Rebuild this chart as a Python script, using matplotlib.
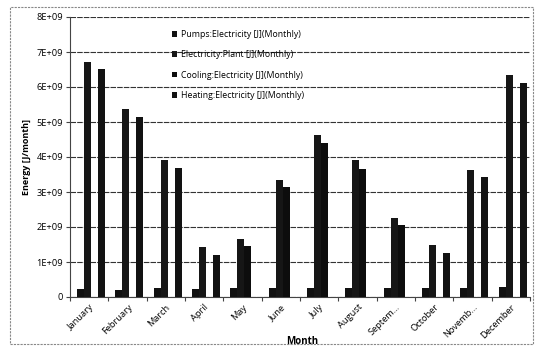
import matplotlib

matplotlib.use('Agg')

import matplotlib.pyplot as plt
import numpy as np
from matplotlib.patches import Rectangle
from matplotlib.ticker import FuncFormatter, FixedLocator

months = ['January', 'February', 'March', 'April', 'May', 'June', 'July',
          'August', 'Septem...', 'October', 'Novemb...', 'December']

# energy per month, in units of 1E+09 J
pumps = [0.24, 0.21, 0.27, 0.23, 0.25, 0.26, 0.27, 0.27, 0.26, 0.25, 0.26, 0.30]
plant = [6.72, 5.36, 3.91, 1.42, 1.67, 3.35, 4.62, 3.91, 2.27, 1.48, 3.64, 6.33]
cooling = [0, 0, 0, 0, 1.45, 3.14, 4.40, 3.67, 2.05, 0, 0, 0]
heating = [6.50, 5.15, 3.69, 1.20, 0, 0, 0, 0, 0, 1.26, 3.43, 6.10]

series = [
    ('Pumps:Electricity [J](Monthly)', pumps, '#111111'),
    ('Electricity:Plant [J](Monthly)', plant, '#161616'),
    ('Cooling:Electricity [J](Monthly)', cooling, '#0d0d0d'),
    ('Heating:Electricity [J](Monthly)', heating, '#121212'),
]

W, H = 535, 347
fig = plt.figure(figsize=(W / 100, H / 100), dpi=100)
ax = fig.add_axes([70 / W, 1 - 297 / H, 460 / W, 280 / H])

x = np.arange(len(months))
w = 0.183
for k, (name, vals, col) in enumerate(series):
    ax.bar(x + (k - 1.5) * w + 0.05, np.array(vals) * 1e9, width=w,
           color=col, label=name, zorder=3)

ax.set_xlim(-0.5, 11.5)
ax.set_ylim(0, 8e9)
ax.set_yticks(np.arange(0, 9) * 1e9)
ax.yaxis.set_major_formatter(FuncFormatter(
    lambda v, p: '0' if v == 0 else '%dE+09' % round(v / 1e9)))

# Excel style: tick marks between categories, labels at centres
ax.xaxis.set_major_locator(FixedLocator(np.arange(-0.5, 12, 1)))
ax.xaxis.set_minor_locator(FixedLocator(x))
ax.set_xticklabels([''] * 13)
ax.set_xticklabels(months, minor=True, rotation=45, ha='right',
                   rotation_mode='anchor', fontsize=6.7, family='Open Sans')
ax.tick_params(axis='x', which='minor', length=0, pad=4)
ax.tick_params(axis='x', which='major', length=3, color='#444444')
ax.tick_params(axis='y', length=3, color='#444444', labelsize=6.7, pad=2)
for t in ax.get_yticklabels():
    t.set_family('Open Sans')

ax.grid(axis='y', color='#333333', linewidth=0.8, linestyle=(0, (5, 1)), zorder=0)
for s in ['top', 'right']:
    ax.spines[s].set_visible(False)
ax.spines['left'].set_color('#444444')
ax.spines['bottom'].set_color('#444444')

ax.set_ylabel('Energy [J/month]', fontsize=6.5, fontweight='bold',
              family='Open Sans', labelpad=4)
ax.set_xlabel('Month', fontsize=7, fontweight='bold', family='Open Sans')
ax.xaxis.set_label_coords(232 / 460, -(336 - 297) / 280)

leg = ax.legend(loc='upper left', bbox_to_anchor=(164 / W, 1 - 22 / H),
                bbox_transform=fig.transFigure, frameon=False,
                handlelength=0.6, handleheight=0.6, handletextpad=0.4,
                labelspacing=1.3, prop={'family': 'Open Sans', 'size': 6.3})

fig.patches.append(Rectangle((10 / W, 1 - 344 / H), 523 / W, 337 / H,
                             transform=fig.transFigure, fill=False,
                             edgecolor='#888888', linewidth=0.8,
                             linestyle=(0, (2, 1))))

fig.savefig('out.png', dpi=100)
